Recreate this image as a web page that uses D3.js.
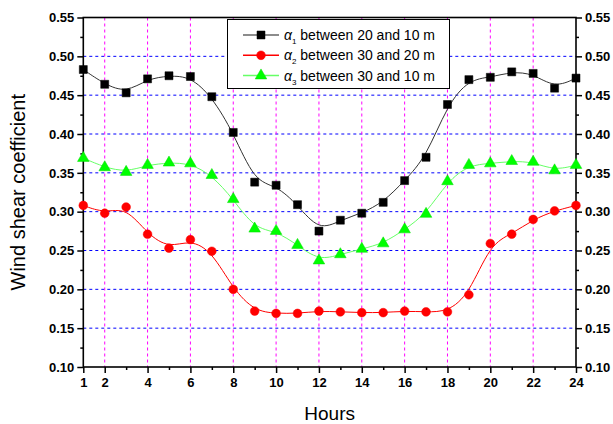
<!DOCTYPE html>
<html><head><meta charset="utf-8">
<script src="https://cdn.jsdelivr.net/npm/d3@7"></script>
<style>
html,body{margin:0;padding:0;background:#fff;}
svg{display:block;font-family:"Liberation Sans",Arial,sans-serif;}
</style></head>
<body>
<svg id="c" width="613" height="424"></svg>
<script>
const hours = [1,2,3,4,5,6,7,8,9,10,11,12,13,14,15,16,17,18,19,20,21,22,23,24];
const alpha1 = [0.483,0.464,0.453,0.471,0.475,0.474,0.448,0.402,0.338,0.334,0.309,0.275,0.289,0.298,0.312,0.340,0.370,0.438,0.470,0.473,0.480,0.478,0.459,0.472];
const alpha2 = [0.308,0.298,0.306,0.271,0.253,0.264,0.249,0.200,0.172,0.169,0.169,0.172,0.171,0.170,0.170,0.172,0.171,0.171,0.193,0.259,0.271,0.290,0.301,0.308];
const alpha3 = [0.369,0.357,0.351,0.360,0.363,0.362,0.347,0.316,0.278,0.275,0.257,0.237,0.245,0.252,0.259,0.277,0.297,0.339,0.360,0.362,0.365,0.364,0.353,0.360];
const yTicks = [0.10,0.15,0.20,0.25,0.30,0.35,0.40,0.45,0.50,0.55];
const xTickLabels = [1,2,4,6,8,10,12,14,16,18,20,22,24];
const seriesNames = ["between 20 and 10 m","between 30 and 20 m","between 30 and 10 m"];

const svg = d3.select("#c");
const x = d3.scaleLinear().domain([1,24]).range([83.3,576]);
const y = d3.scaleLinear().domain([0.10,0.55]).range([367,17.5]);
const L = x.range()[0], R = x.range()[1], T = y.range()[1], B = y.range()[0];

// grid
const g = svg.append("g");
g.selectAll("line.hg").data(yTicks.filter(v=>v>0.11 && v<0.54)).join("line")
  .attr("x1",L).attr("x2",R).attr("y1",d=>y(d)).attr("y2",d=>y(d))
  .attr("stroke","#0000ff").attr("stroke-width",1).attr("stroke-dasharray","3,3");
g.selectAll("line.vg").data(d3.range(2,24,2)).join("line")
  .attr("y1",T).attr("y2",B).attr("x1",d=>x(d)).attr("x2",d=>x(d))
  .attr("stroke","#ff00ff").attr("stroke-width",1).attr("stroke-dasharray","3,3");

// axes
const minorY = d3.range(0.125,0.55,0.05);
const yMajAxisL = d3.axisLeft(y).tickValues(yTicks).tickFormat(d3.format(".2f")).tickSize(6).tickPadding(3);
const yMinAxisL = d3.axisLeft(y).tickValues(minorY).tickFormat("").tickSize(3);
const yMajAxisR = d3.axisRight(y).tickValues(yTicks).tickFormat(d3.format(".2f")).tickSize(6).tickPadding(3);
const yMinAxisR = d3.axisRight(y).tickValues(minorY).tickFormat("").tickSize(3);
const xMajAxis = d3.axisBottom(x).tickValues(xTickLabels).tickFormat(d3.format("d")).tickSize(6).tickPadding(5);
const xMinAxis = d3.axisBottom(x).tickValues(hours.filter(h=>!xTickLabels.includes(h))).tickFormat("").tickSize(3);

function style(sel){
  sel.select(".domain").remove();
  sel.selectAll("line").attr("stroke","#000").attr("stroke-width",1.5);
  sel.selectAll("text").attr("fill","#000").attr("font-size",13).attr("font-weight","bold")
     .attr("font-family","'Liberation Sans',Arial,sans-serif");
}
svg.append("g").attr("transform",`translate(${L},0)`).call(yMajAxisL).call(style);
svg.append("g").attr("transform",`translate(${L},0)`).call(yMinAxisL).call(style);
svg.append("g").attr("transform",`translate(${R},0)`).call(yMajAxisR).call(style);
svg.append("g").attr("transform",`translate(${R},0)`).call(yMinAxisR).call(style);
svg.append("g").attr("transform",`translate(0,${B})`).call(xMajAxis).call(style);
svg.append("g").attr("transform",`translate(0,${B})`).call(xMinAxis).call(style);

// frame
svg.append("rect").attr("x",L).attr("y",T).attr("width",R-L).attr("height",B-T)
  .attr("fill","none").attr("stroke","#000").attr("stroke-width",1.6);

// series
const series = [
  {vals:alpha1, line:"#333333", fill:"#000000", stroke:"#000000", shape:"square", sub:"1"},
  {vals:alpha2, line:"#ff0000", fill:"#ff0000", stroke:"#ff0000", shape:"circle", sub:"2"},
  {vals:alpha3, line:"#66ff66", fill:"#00ff00", stroke:"#00dd00", shape:"triangle", sub:"3"}
];
const line = d3.line().x((d,i)=>x(hours[i])).y(d=>y(d)).curve(d3.curveBasis);
const sym = {square:d3.symbolSquare, circle:d3.symbolCircle, triangle:d3.symbolTriangle};
const symSize = {square:64, circle:60, triangle:58};

series.forEach(s=>{
  svg.append("path").attr("d",line(s.vals)).attr("fill","none").attr("stroke",s.line).attr("stroke-width",1);
});
series.forEach(s=>{
  svg.append("g").selectAll("path").data(s.vals).join("path")
    .attr("transform",(d,i)=>`translate(${x(hours[i])},${y(d)})`)
    .attr("d",d3.symbol().type(sym[s.shape]).size(symSize[s.shape]))
    .attr("fill",s.fill).attr("stroke",s.stroke).attr("stroke-width",0.5);
});

// legend
const lg = svg.append("g");
lg.append("rect").attr("x",227.5).attr("y",19.5).attr("width",222).attr("height",69)
  .attr("fill","#fff").attr("stroke","#000").attr("stroke-width",1);
series.forEach((s,i)=>{
  const cy = 35 + i*20.3;
  const lc = i===0 ? "#666666" : s.line;
  lg.append("line").attr("x1",243).attr("x2",279).attr("y1",cy).attr("y2",cy).attr("stroke",lc).attr("stroke-width",1.5);
  lg.append("path").attr("transform",`translate(261,${cy})`)
    .attr("d",d3.symbol().type(sym[s.shape]).size(symSize[s.shape]))
    .attr("fill",s.fill).attr("stroke",s.stroke).attr("stroke-width",0.5);
  const t = lg.append("text").attr("x",284).attr("y",cy+5).attr("font-size",14).attr("fill","#000");
  t.append("tspan").text("α").attr("font-style","italic");
  t.append("tspan").text(s.sub).attr("font-size",8).attr("dy",4);
  t.append("tspan").text(" " + seriesNames[i]).attr("dy",-4);
});

// titles
svg.append("text").attr("x",(L+R)/2).attr("y",420).attr("text-anchor","middle")
  .attr("font-size",19).attr("fill","#000").text("Hours");
svg.append("text").attr("transform",`translate(25,${(T+B)/2}) rotate(-90)`).attr("text-anchor","middle")
  .attr("font-size",20).attr("fill","#000").text("Wind shear coefficient");
</script>
</body></html>
